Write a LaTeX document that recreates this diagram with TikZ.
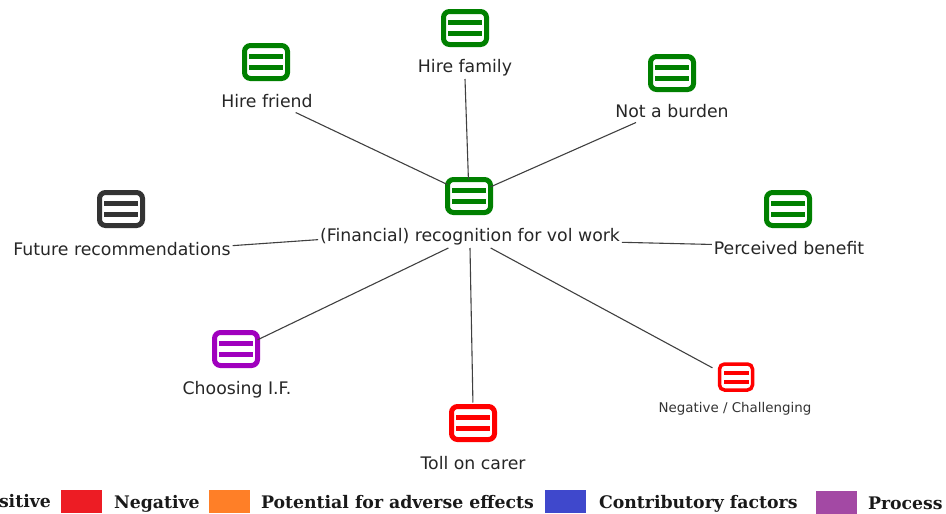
\documentclass[tikz,border=0pt]{standalone}
\usepackage{fontspec}
\setmainfont{DejaVu Sans}
\newfontfamily\legendfont{DejaVu Serif}[BoldFont={DejaVu Serif Bold}]
\tikzset{
  x=1pt,y=-1pt,
  iconbox/.style n args={4}{draw=#1,line width=#2,rounded corners=#3,fill=white,inner sep=0pt,outer sep=0pt,#4},
  bigicon/.style={iconbox={#1}{5pt}{6pt}{minimum width=43pt,minimum height=33pt,
    path picture={
      \fill[#1,sharp corners] ([xshift=-17pt,yshift=8pt]path picture bounding box.center) rectangle ([xshift=17pt,yshift=3pt]path picture bounding box.center);
      \fill[#1,sharp corners] ([xshift=-17pt,yshift=-3pt]path picture bounding box.center) rectangle ([xshift=17pt,yshift=-8pt]path picture bounding box.center);
    }}},
  smallicon/.style={iconbox={#1}{3.5pt}{5pt}{minimum width=33pt,minimum height=26pt,
    path picture={
      \fill[#1,sharp corners] ([xshift=-12.5pt,yshift=6pt]path picture bounding box.center) rectangle ([xshift=12.5pt,yshift=2pt]path picture bounding box.center);
      \fill[#1,sharp corners] ([xshift=-12.5pt,yshift=-3pt]path picture bounding box.center) rectangle ([xshift=12.5pt,yshift=-7pt]path picture bounding box.center);
    }}},
  lab/.style={font=\fontsize{17.3}{20}\selectfont,text=black!85,inner sep=0pt,outer xsep=2pt,outer ysep=0pt,minimum height=22pt},
  smalllab/.style={font=\fontsize{13.4}{16}\selectfont,text=black!80,inner sep=0pt,outer sep=0pt},
  link/.style={draw=black!75,line width=1.1pt},
  swatch/.style={inner sep=0pt,outer sep=0pt,minimum width=41pt,minimum height=23pt,fill=#1},
  legtext/.style={font=\legendfont\bfseries\fontsize{17.3}{21}\selectfont,text=black!90,inner sep=0pt,outer sep=0pt,anchor=base west},
}
\definecolor{igreen}{RGB}{0,128,0}
\definecolor{iblack}{RGB}{51,51,51}
\definecolor{ipurple}{RGB}{160,0,190}
\definecolor{ired}{RGB}{255,0,0}
\definecolor{lred}{RGB}{237,28,36}
\definecolor{lorange}{RGB}{255,127,39}
\definecolor{lblue}{RGB}{63,72,204}
\definecolor{lpurple}{RGB}{163,73,164}
\begin{document}
\begin{tikzpicture}
\useasboundingbox (0,0) rectangle (946,514);
% icons
\node[bigicon=igreen] (cic) at (469,196) {};
\node[bigicon=igreen] (famic) at (465,28) {};
\node[bigicon=igreen] (frdic) at (266,62) {};
\node[bigicon=igreen] (burdic) at (672,73) {};
\node[bigicon=igreen] (perc) at (788,209) {};
\node[bigicon=iblack] (futic) at (121,209) {};
\node[bigicon=ipurple] (choic) at (236,349) {};
\node[bigicon=ired] (tollic) at (473,423) {};
\node[smallicon=ired] (negic) at (736,377) {};
% labels
\node[lab] (clab) at (470,237) {(Financial) recognition for vol work};
\node[lab] (fam) at (465,68) {Hire family};
\node[lab] (frd) at (267,101.5) {Hire friend};
\node[lab] (burd) at (672,111.5) {Not a burden};
\node[lab] (perl) at (789,248.5) {Perceived benefit};
\node[lab] (fut) at (122,249.5) {Future recommendations};
\node[lab] (cho) at (237,390) {Choosing I.F.};
\node[lab] (toll) at (473,463) {Toll on carer};
\node[smalllab] (neg) at (735,409) {Negative / Challenging};
% connectors
\draw[link] (cic.152) -- (frd.339);
\draw[link] (cic.92) -- (fam.south);
\draw[link] (cic.23) -- (burd.197);
\draw[link] (clab.358.5) -- (perl.177);
\draw[link] (clab.181) -- (fut.2.6);
\draw[link] (clab.207) -- (choic.23);
\draw[link,shorten >=4pt] (clab.270) -- (tollic.north);
\draw[link,shorten >=8pt] (clab.332) -- (negic.162);
% legend
\node[legtext] (l1) at (-1,507) {sitive};
\node[swatch=lred] (s1) at (81,501) {};
\node[legtext] (l2) at (114,508) {Negative};
\node[swatch=lorange] (s2) at (229.5,501.5) {};
\node[legtext] (l3) at (261,508) {Potential for adverse effects};
\node[swatch=lblue] (s3) at (565,501.5) {};
\node[legtext] (l4) at (599,508) {Contributory factors};
\node[swatch=lpurple] (s4) at (836.5,502) {};
\node[legtext] (l5) at (868,509) {Process};
\end{tikzpicture}
\end{document}
